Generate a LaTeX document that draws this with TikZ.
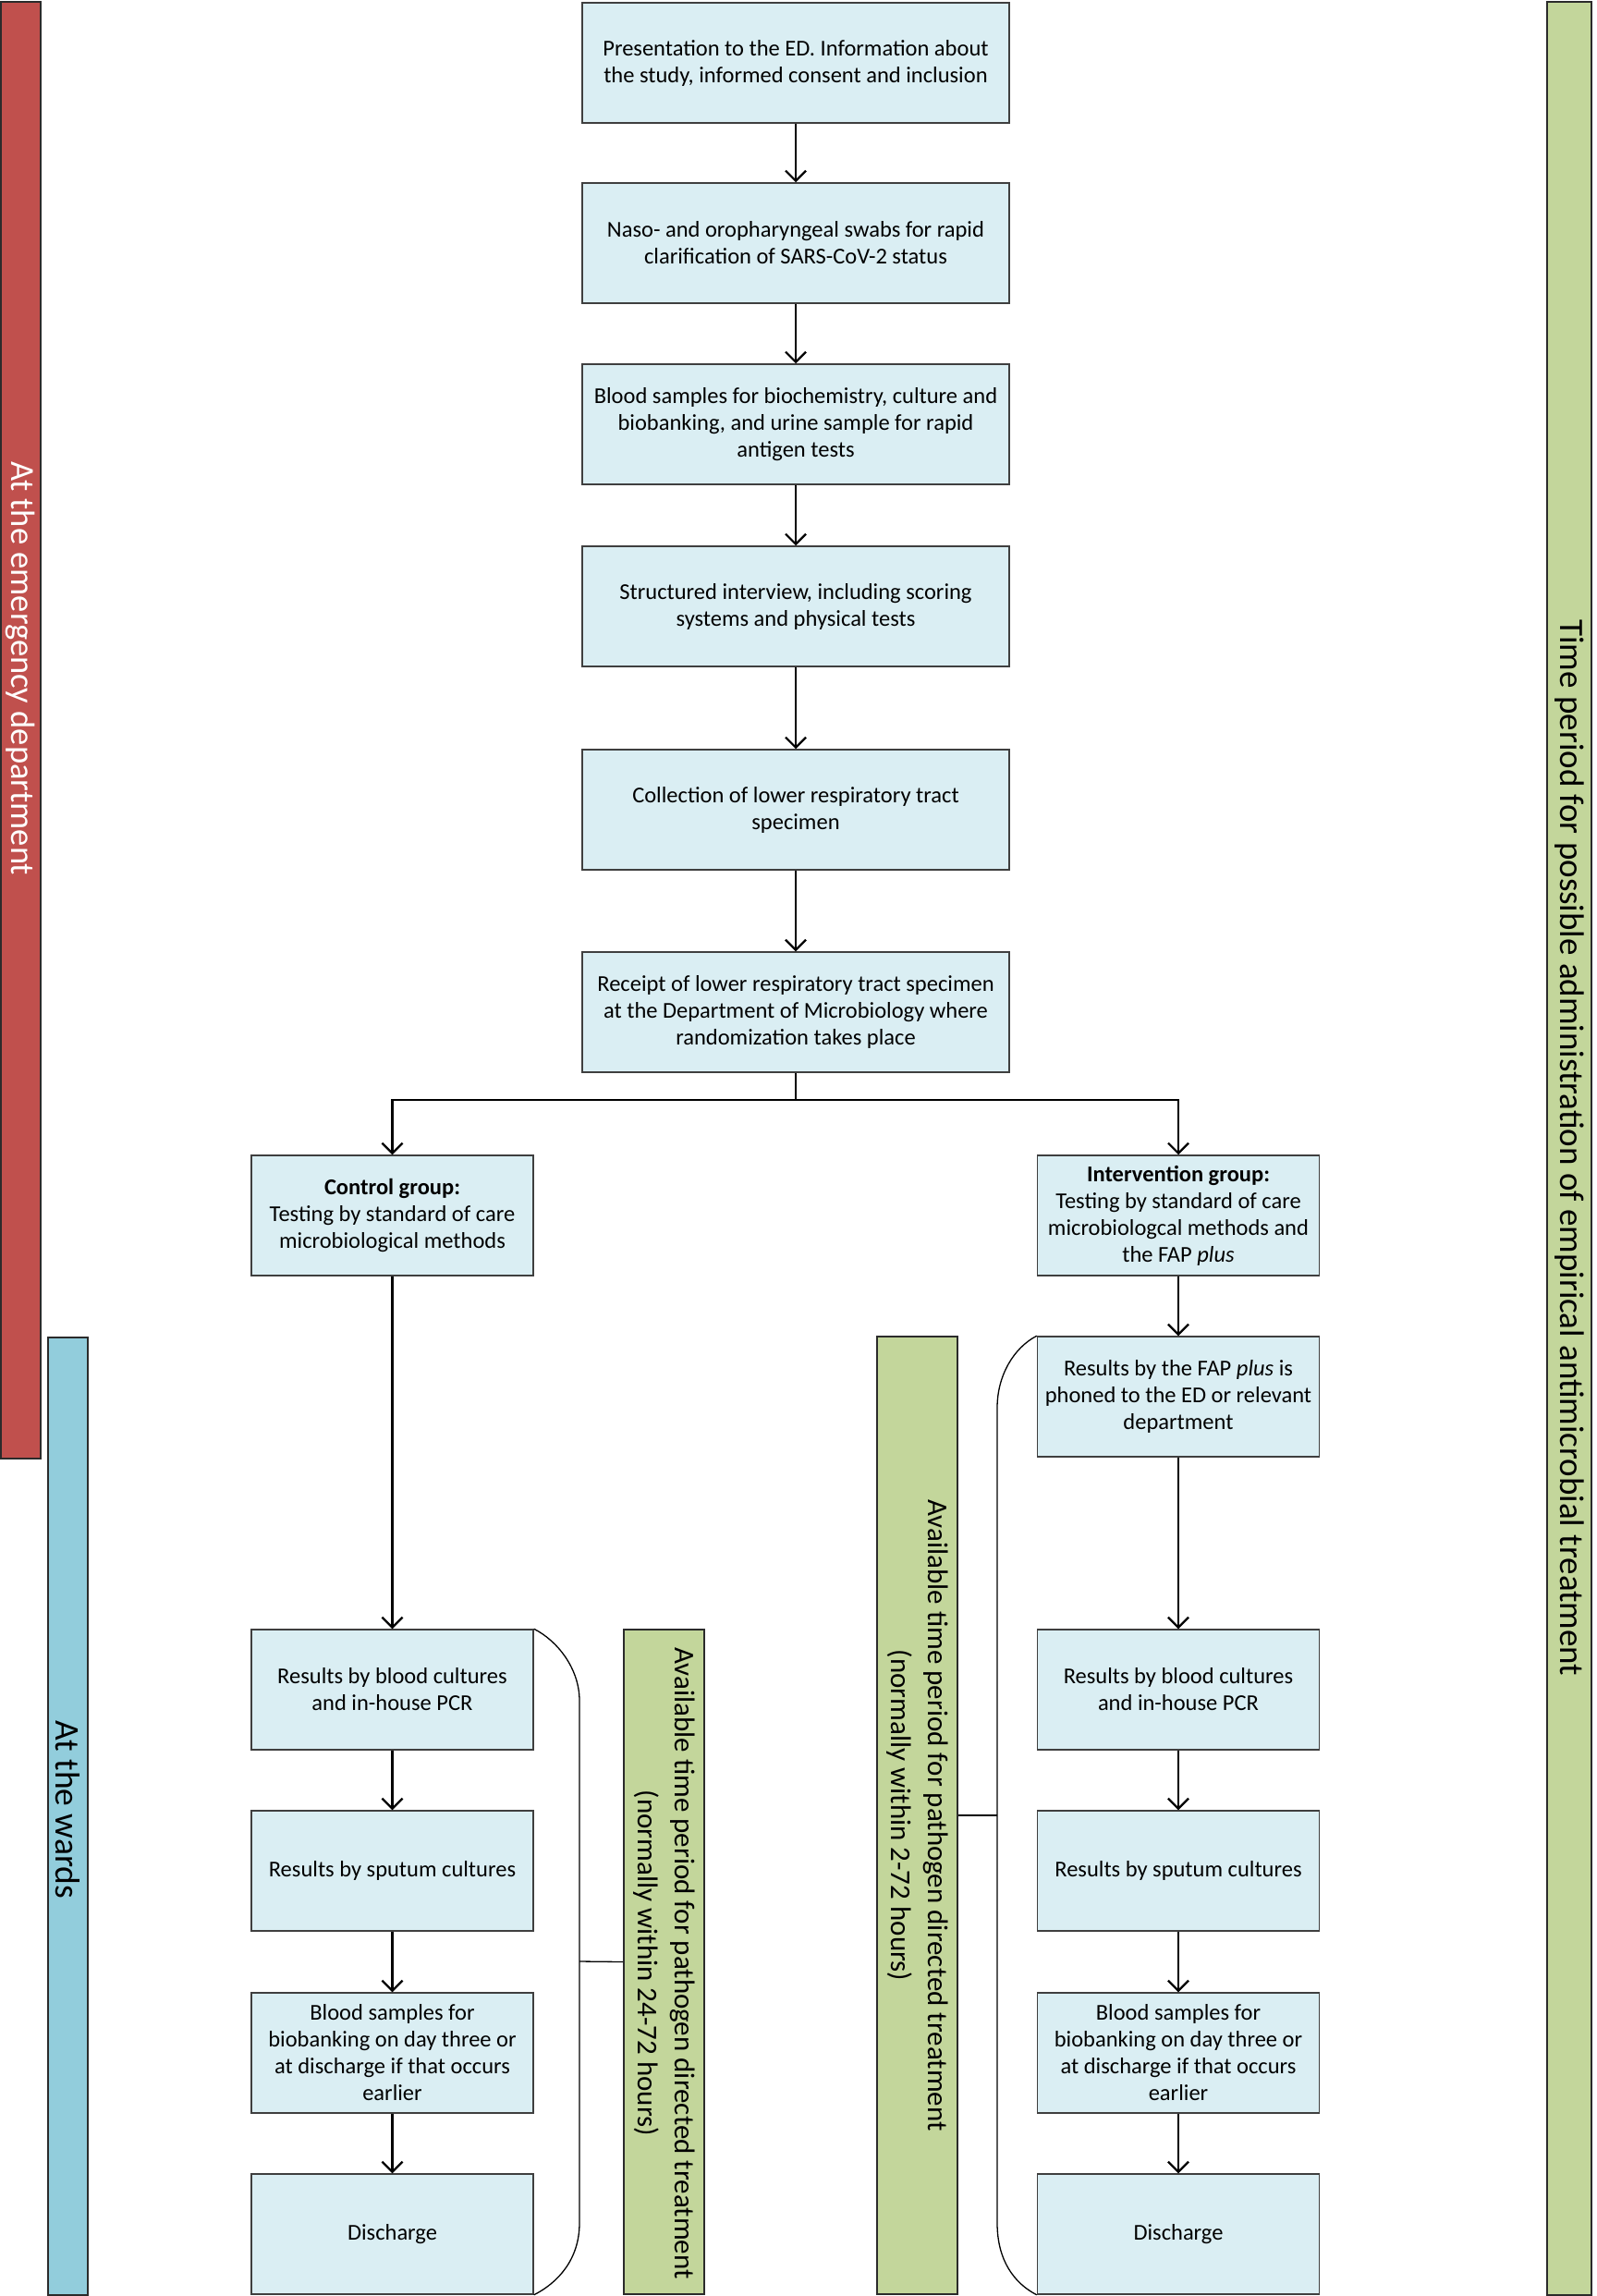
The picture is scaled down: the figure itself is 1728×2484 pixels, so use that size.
\documentclass[tikz,border=0pt]{standalone}
\usepackage{fontspec}
\setmainfont{Carlito}
\usetikzlibrary{arrows.meta}
\definecolor{boxfill}{HTML}{DAEEF3}
\definecolor{boxdraw}{HTML}{3F3F3F}
\definecolor{redbar}{HTML}{C0504D}
\definecolor{bluebar}{HTML}{92CDDC}
\definecolor{greenbar}{HTML}{C3D69B}
\definecolor{bardraw}{HTML}{2B2B2B}
\begin{document}
\begin{tikzpicture}[x=1pt,y=-1pt,
  box/.style={draw=boxdraw, fill=boxfill, line width=1.5pt, align=center, inner sep=3pt, font=\fontsize{24.5}{29}\selectfont},
  cbox/.style={box, minimum width=462pt, minimum height=130pt},
  sbox/.style={box, minimum width=305pt, minimum height=130pt},
  bar/.style={draw=bardraw, line width=2pt, inner sep=0pt},
  arr/.style={-{Straight Barb[length=11pt,width=22pt]}, line width=2.2pt, black},
  brk/.style={line width=1.3pt, black},
  vtext/.style={rotate=-90, align=center, inner sep=0pt}]
\useasboundingbox (0,0) rectangle (1728,2484);
\fill[white] (0,0) rectangle (1728,2484);

% side bars
\node[bar, fill=redbar, minimum width=43pt, minimum height=1576pt] (edbar) at (22.5,789.5) {};
\node[vtext, text=white, font=\fontsize{36.5}{42}\selectfont] (edtext) at (22,723) {At the emergency department};
\node[bar, fill=bluebar, minimum width=43pt, minimum height=1036pt] (wbar) at (73.5,1964.5) {};
\node[vtext, font=\fontsize{37.5}{43}\selectfont] (wtext) at (73.5,1958) {At the wards};
\node[bar, fill=greenbar, minimum width=48pt, minimum height=2481pt] (tbar) at (1698,1242) {};
\node[vtext, font=\fontsize{37}{43}\selectfont] (ttext) at (1698,1242) {Time period for possible administration of empirical antimicrobial treatment};

% central chain
\node[cbox] (b1) at (861,68) {Presentation to the ED. Information about\\the study, informed consent and inclusion};
\node[cbox] (b2) at (861,263) {Naso- and oropharyngeal swabs for rapid\\clarification of SARS-CoV-2 status};
\node[cbox] (b3) at (861,459) {Blood samples for biochemistry, culture and\\biobanking, and urine sample for rapid\\antigen tests};
\node[cbox] (b4) at (861,656) {Structured interview, including scoring\\systems and physical tests};
\node[cbox] (b5) at (861,876) {Collection of lower respiratory tract\\specimen};
\node[cbox] (b6) at (861,1095) {Receipt of lower respiratory tract specimen\\at the Department of Microbiology where\\randomization takes place};

% groups
\node[sbox] (ctrl) at (424.5,1315) {\textbf{Control group:}\\Testing by standard of care\\microbiological methods};
\node[sbox] (intv) at (1275,1315) {\textbf{Intervention group:}\\Testing by standard of care\\microbiologcal methods and\\the FAP \textit{plus}};
\node[sbox] (fap) at (1275,1511) {Results by the FAP \textit{plus} is\\phoned to the ED or relevant\\department};

% left column
\node[sbox] (la) at (424.5,1828) {Results by blood cultures\\and in-house PCR};
\node[sbox] (lb) at (424.5,2024) {Results by sputum cultures};
\node[sbox] (lc) at (424.5,2221) {Blood samples for\\biobanking on day three or\\at discharge if that occurs\\earlier};
\node[sbox] (ld) at (424.5,2417) {Discharge};

% right column
\node[sbox] (ra) at (1275,1828) {Results by blood cultures\\and in-house PCR};
\node[sbox] (rb) at (1275,2024) {Results by sputum cultures};
\node[sbox] (rc) at (1275,2221) {Blood samples for\\biobanking on day three or\\at discharge if that occurs\\earlier};
\node[sbox] (rd) at (1275,2417) {Discharge};

% middle green boxes
\node[bar, fill=greenbar, minimum width=87pt, minimum height=719pt] (gl) at (718.5,2122.5) {};
\node[vtext, font=\fontsize{31}{40}\selectfont] (gltext) at (718.5,2124) {Available time period for pathogen directed treatment\\(normally within 24-72 hours)};
\node[bar, fill=greenbar, minimum width=87pt, minimum height=1036pt] (gr) at (992.5,1964) {};
\node[vtext, font=\fontsize{31}{40}\selectfont] (grtext) at (992.5,1964) {Available time period for pathogen directed treatment\\(normally within 2-72 hours)};

% connectors
\draw[arr] (b1) -- (b2);
\draw[arr] (b2) -- (b3);
\draw[arr] (b3) -- (b4);
\draw[arr] (b4) -- (b5);
\draw[arr] (b5) -- (b6);
\coordinate (split) at (861,1190);
\draw[line width=2.2pt] (b6.south) -- (split);
\draw[arr] (split) -| (ctrl.north);
\draw[arr] (split) -| (intv.north);
\draw[arr] (ctrl) -- (la);
\draw[arr] (la) -- (lb);
\draw[arr] (lb) -- (lc);
\draw[arr] (lc) -- (ld);
\draw[arr] (intv) -- (fap);
\draw[arr] (fap) -- (ra);
\draw[arr] (ra) -- (rb);
\draw[arr] (rb) -- (rc);
\draw[arr] (rc) -- (rd);

% brackets
\coordinate (lbt) at (627,2122);
\coordinate (rbt) at (1079,1964);
\draw[brk] (la.north east) .. controls (603,1775) and (627,1805) .. (627,1840) -- (627,2405) .. controls (627,2445) and (603,2470) .. (ld.south east);
\draw[brk] (lbt) -- (gl.west);
\draw[brk] (fap.north west) .. controls (1097,1458) and (1079,1488) .. (1079,1523) -- (1079,2405) .. controls (1079,2445) and (1097,2470) .. (rd.south west);
\draw[brk] (rbt) -- (gr.east);
\end{tikzpicture}
\end{document}
